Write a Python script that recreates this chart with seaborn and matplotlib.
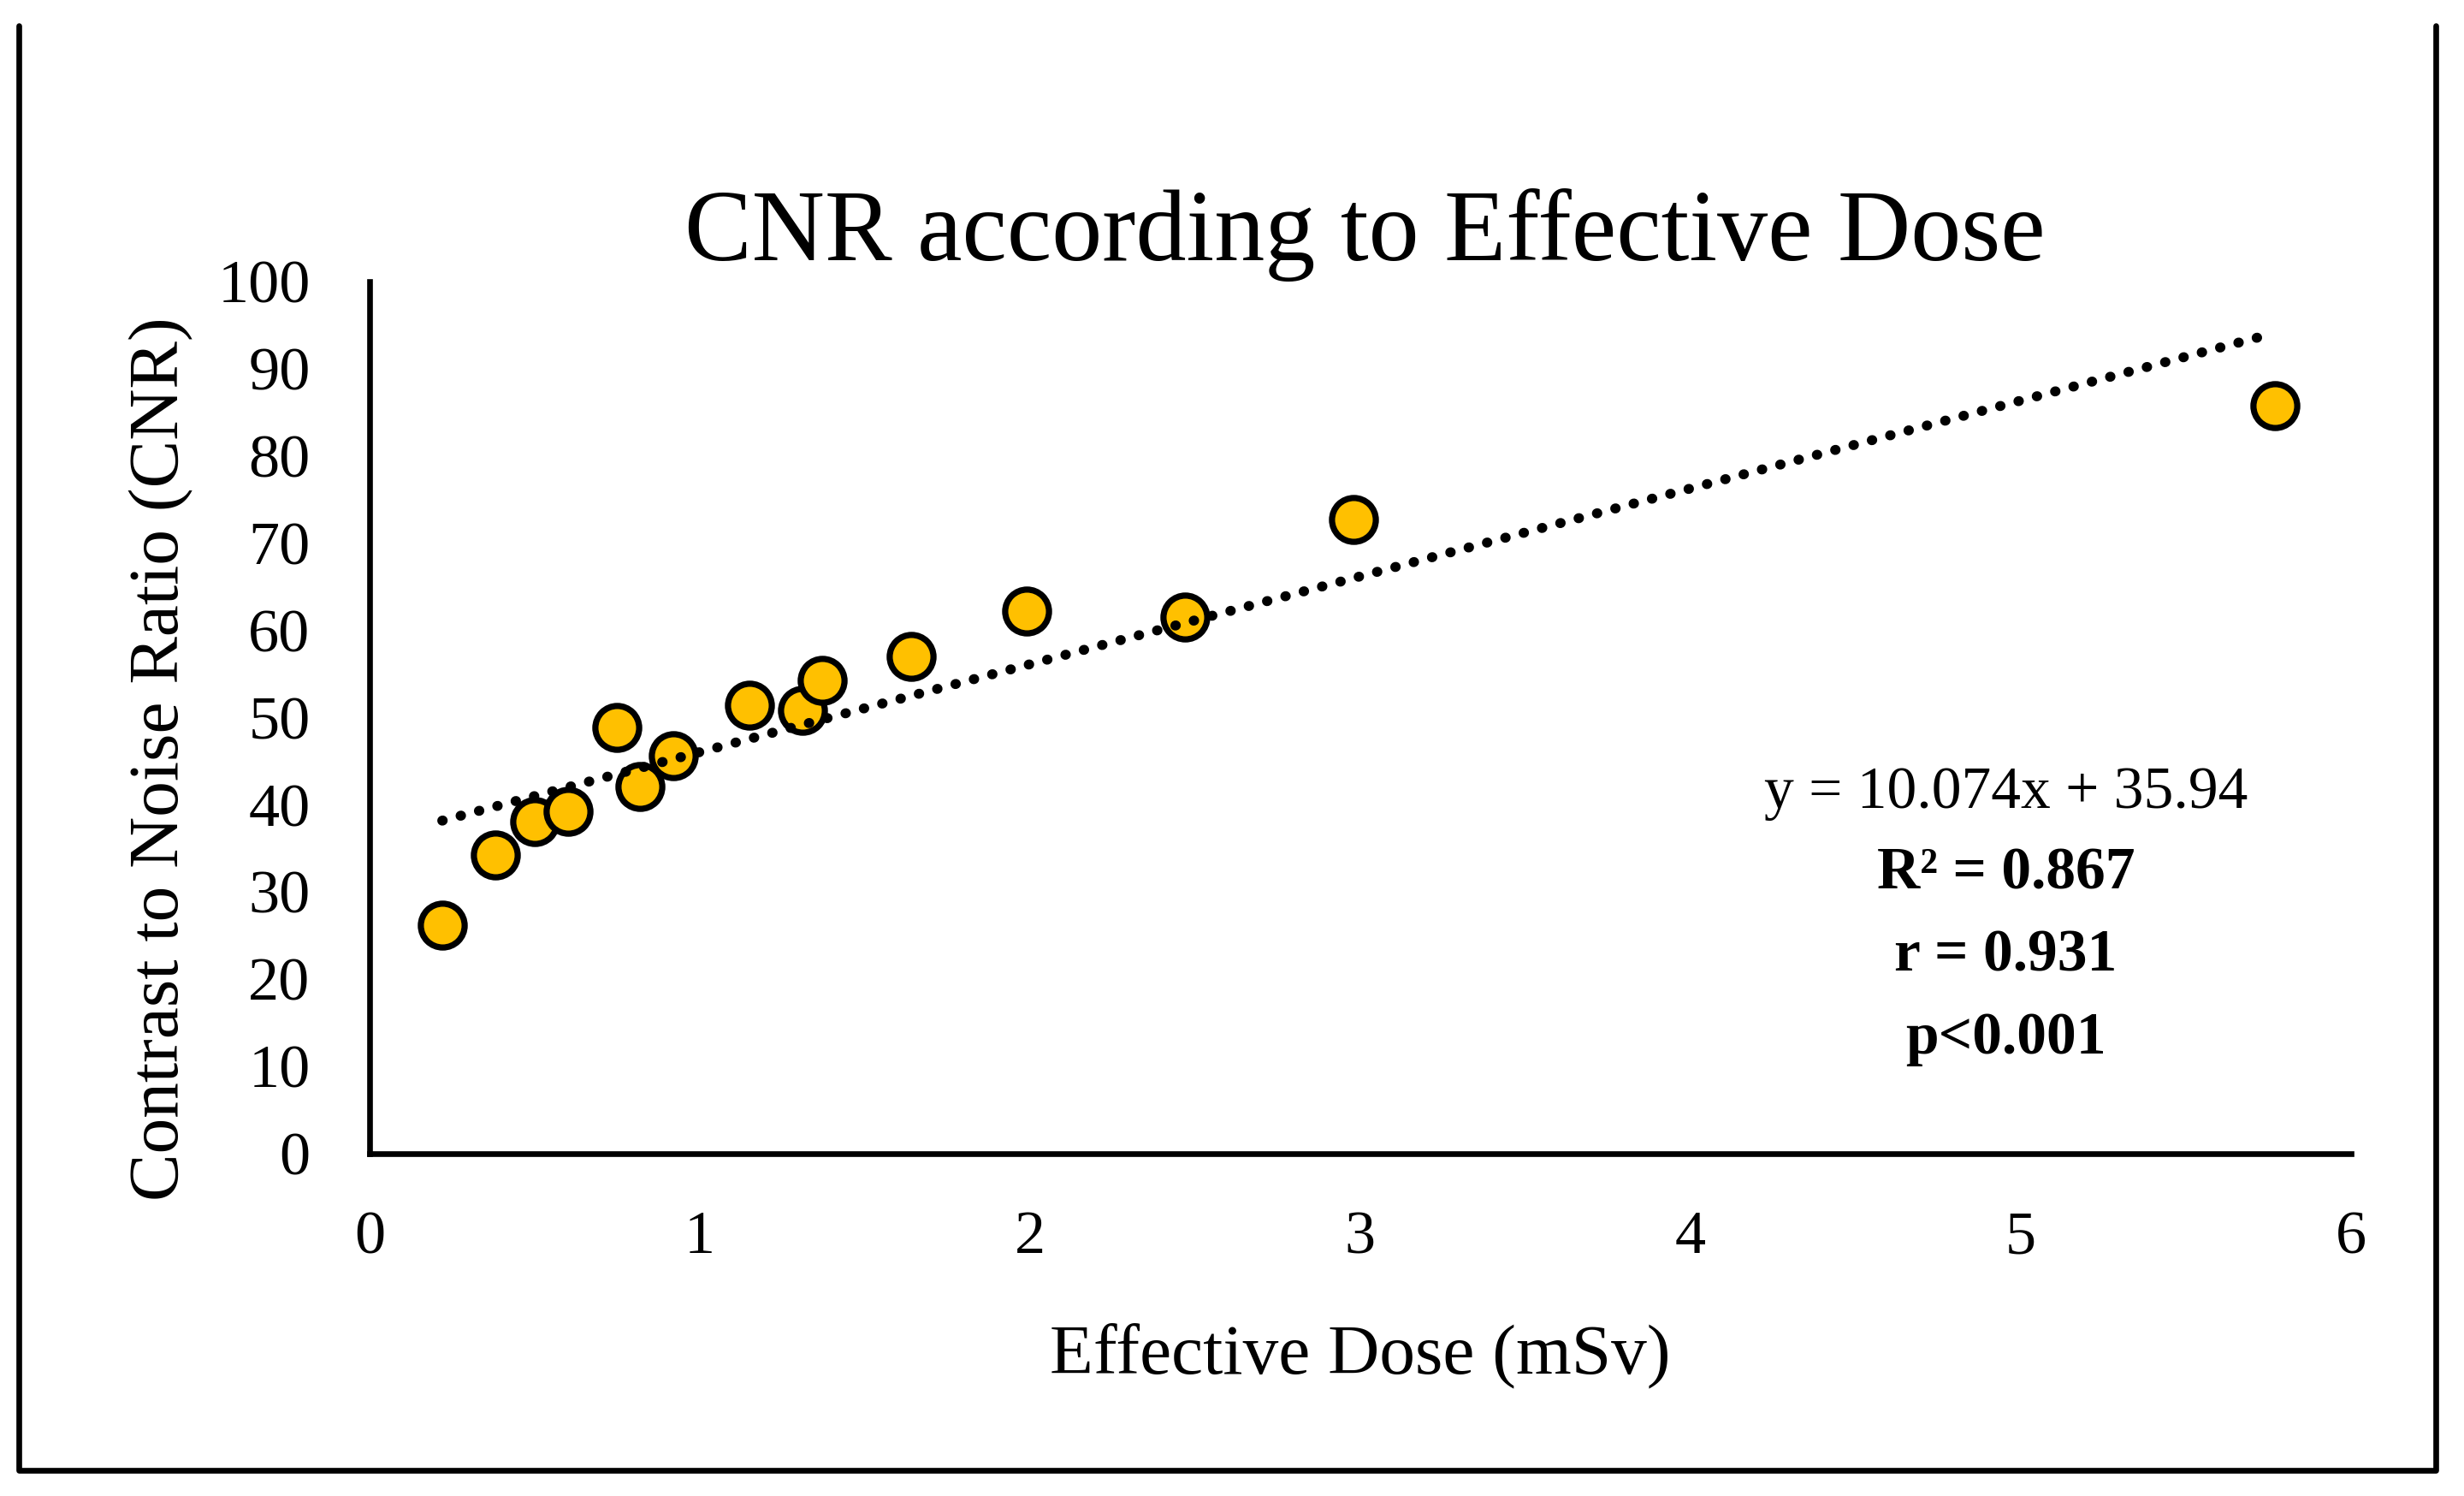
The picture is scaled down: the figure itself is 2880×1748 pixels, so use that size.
import numpy as np
import pandas as pd
import seaborn as sns
import matplotlib.pyplot as plt
from matplotlib.lines import Line2D

# data
dose = [0.22, 0.38, 0.50, 0.60, 0.75, 0.82, 0.92, 1.15, 1.31, 1.37, 1.64, 1.99, 2.47, 2.98, 5.77]
cnr = [26.2, 34.2, 38.0, 39.2, 48.8, 42.1, 45.6, 51.4, 50.8, 54.2, 57.0, 62.2, 61.5, 72.7, 85.7]

slope = 10.074
intercept = 35.94
stats_lines = ["R² = 0.867", "r = 0.931", "p<0.001"]

x_ticks = [0, 1, 2, 3, 4, 5, 6]
y_ticks = [0, 10, 20, 30, 40, 50, 60, 70, 80, 90, 100]

df = pd.DataFrame({"dose": dose, "cnr": cnr})

sns.set_style("white")
plt.rcParams["font.family"] = ["Liberation Serif", "DejaVu Serif"]
plt.rcParams["text.color"] = "black"
plt.rcParams["axes.labelcolor"] = "black"

fig = plt.figure(figsize=(14.4, 8.74), dpi=200)
ax = fig.add_axes([0.1500, 0.229, 0.8040, 0.583])

# trendline
trend_x = np.array([min(dose), max(dose)])
trend_y = slope * trend_x + intercept
line, = ax.plot(trend_x, trend_y, color="black", linewidth=4.2,
                dash_capstyle="round", zorder=3)
line.set_dashes([0.05, 1.85])

sns.scatterplot(data=df, x="dose", y="cnr", ax=ax, s=340,
                color="#FFC000", edgecolor="black", linewidth=2.6, zorder=2)

ax.set_xlim(0, 6)
ax.set_ylim(0, 100)
ax.set_xticks(x_ticks)
ax.set_yticks(y_ticks)

for side in ["top", "right"]:
    ax.spines[side].set_visible(False)
for side in ["left", "bottom"]:
    ax.spines[side].set_linewidth(2.4)
    ax.spines[side].set_color("black")

ax.tick_params(axis="both", direction="out", length=9, width=2.4,
               labelsize=26, colors="black")
ax.tick_params(axis="x", pad=15)
ax.tick_params(axis="y", pad=16)

ax.set_xlabel("Effective Dose (mSv)", fontsize=30, va="center")
ax.set_ylabel("Contrast to Noise Ratio (CNR)", fontsize=30, va="center")
ax.xaxis.set_label_coords(0.5, -0.232)
ax.yaxis.set_label_coords(-0.105, 0.452)

fig.text(0.554, 0.843, "CNR according to Effective Dose", fontsize=42.5,
         ha="center", va="center")

# regression annotation
fig.text(0.814, 0.4697, f"y = {slope}x + {intercept}", fontsize=25,
         ha="center", va="center")
for i, txt in enumerate(stats_lines):
    fig.text(0.814, 0.4159 - i * 0.0553, txt, fontsize=25, fontweight="bold",
             ha="center", va="center")

# outer frame (no top edge)
x0, x1 = 22 / 2880, 2847 / 2880
yb, yt = 1 - 1718 / 1748, 1 - 30 / 1748
fig.add_artist(Line2D([x0, x0, x1, x1], [yt, yb, yb, yt],
                      transform=fig.transFigure, color="black", linewidth=2.4))

fig.savefig("out.png", dpi=200, facecolor="white")
